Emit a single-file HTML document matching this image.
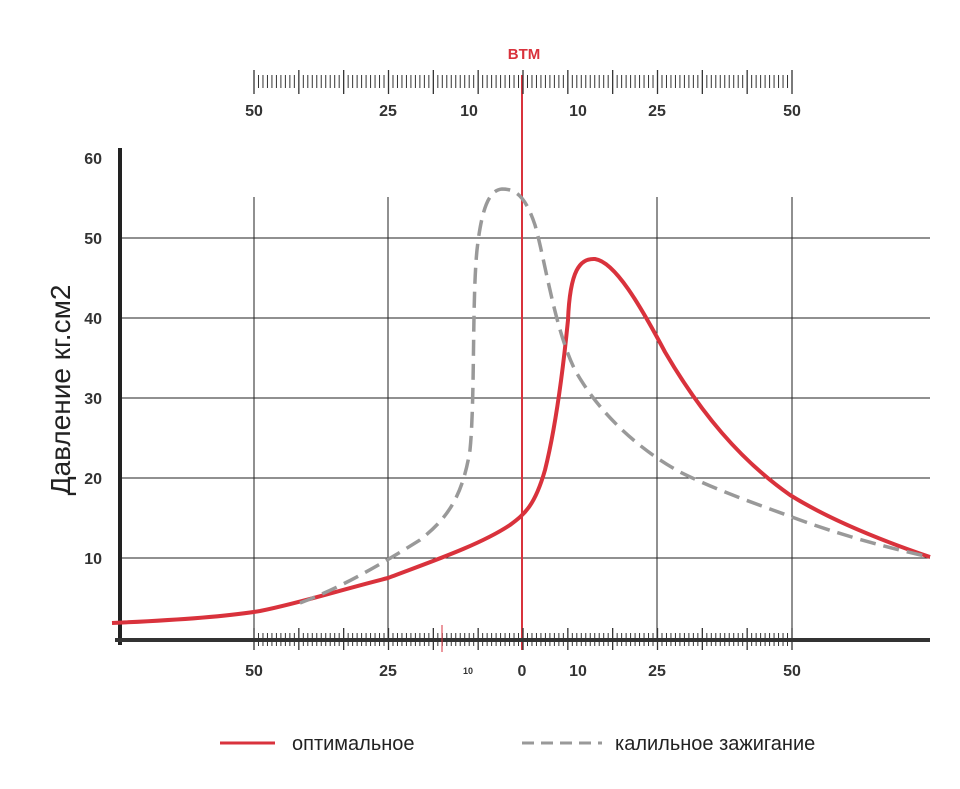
<!DOCTYPE html>
<html><head><meta charset="utf-8"><style>
html,body{margin:0;padding:0;background:#fff;}
svg{display:block;font-family:"Liberation Sans",sans-serif;}
</style></head><body>
<svg width="960" height="789" viewBox="0 0 960 789" xmlns="http://www.w3.org/2000/svg">
<rect width="960" height="789" fill="#fff"/>
<g stroke="#222" stroke-width="1">
<line x1="120" y1="238" x2="930" y2="238"/>
<line x1="120" y1="318" x2="930" y2="318"/>
<line x1="120" y1="398" x2="930" y2="398"/>
<line x1="120" y1="478" x2="930" y2="478"/>
<line x1="120" y1="558" x2="930" y2="558"/>
<line x1="254" y1="197" x2="254" y2="639"/>
<line x1="388" y1="197" x2="388" y2="639"/>
<line x1="657" y1="197" x2="657" y2="639"/>
<line x1="792" y1="197" x2="792" y2="639"/>
</g>
<line x1="522" y1="75" x2="522" y2="650" stroke="#d9323c" stroke-width="2"/>
<line x1="120" y1="148" x2="120" y2="645" stroke="#222" stroke-width="4"/>
<line x1="115" y1="640" x2="930" y2="640" stroke="#333" stroke-width="4"/>
<g font-size="16" font-weight="bold" fill="#333" text-anchor="end">
<text x="102" y="164">60</text><text x="102" y="244">50</text><text x="102" y="324">40</text>
<text x="102" y="404">30</text><text x="102" y="484">20</text><text x="102" y="564">10</text>
</g>
<g font-size="16" font-weight="bold" fill="#333" text-anchor="middle">
<text x="254" y="116">50</text><text x="388" y="116">25</text><text x="469" y="116">10</text>
<text x="578" y="116">10</text><text x="657" y="116">25</text><text x="792" y="116">50</text>
<text x="254" y="676">50</text><text x="388" y="676">25</text><text x="468" y="674" font-size="9">10</text>
<text x="522" y="676">0</text><text x="578" y="676">10</text><text x="657" y="676">25</text><text x="792" y="676">50</text>
</g>
<text x="524" y="59" font-size="15" font-weight="bold" fill="#d9323c" text-anchor="middle">BTM</text>
<text transform="translate(70,390) rotate(-90)" font-size="28" fill="#222" text-anchor="middle">Давление кг.см2</text>
<path d="M112,623 C180,620 230,616 260,611 C300,603 340,590 388,578 C430,562 480,545 510,525 C525,514 535,505 545,470 C555,430 562,380 568,320 C570,270 580,258 595,259 C615,262 640,305 665,352 C700,412 740,460 790,495 C830,520 880,540 930,557" fill="none" stroke="#d9323c" stroke-width="4"/>
<path d="M300,603 C340,588 380,565 420,540 C445,520 462,500 470,450 C475,400 472,300 477,250 C482,205 490,190 502,189 C515,189 525,195 535,225 C545,260 555,330 575,370 C600,415 640,450 680,472 C720,492 760,505 800,520 C850,538 890,548 925,556" fill="none" stroke="#999" stroke-width="3.5" stroke-dasharray="16,8"/>
<line x1="220" y1="743" x2="275" y2="743" stroke="#d9323c" stroke-width="3"/>
<text x="292" y="750" font-size="20" fill="#222">оптимальное</text>
<line x1="522" y1="743" x2="602" y2="743" stroke="#999" stroke-width="3" stroke-dasharray="12,7"/>
<text x="615" y="750" font-size="20" fill="#222">калильное зажигание</text>
</svg>
<script>
(function(){
var s=document.querySelector('svg'),ns='http://www.w3.org/2000/svg';
function L(x1,y1,x2,y2,c,w){var l=document.createElementNS(ns,'line');l.setAttribute('x1',x1);l.setAttribute('y1',y1);l.setAttribute('x2',x2);l.setAttribute('y2',y2);l.setAttribute('stroke',c||'#444');l.setAttribute('stroke-width',w||1);s.appendChild(l);}
var n=120,a=254,b=792;
for(var i=0;i<=n;i++){var x=a+(b-a)*i/n;var big=(i%10==0);
L(x,big?70:75,x,big?94:88,'#333',big?1.3:1);
L(x,big?628:633,x,big?650:646,'#333',big?1.3:1);}
L(442,625,442,652,'#d9323c',1);
})();
</script>
</body></html>
